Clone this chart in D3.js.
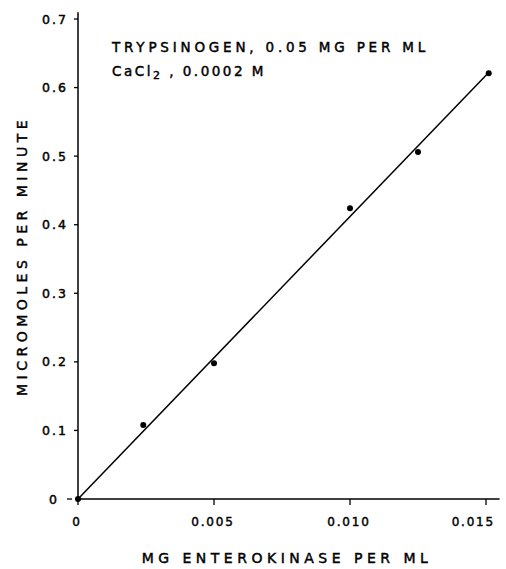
<!DOCTYPE html>
<html>
<head>
<meta charset="utf-8">
<script src="https://cdn.jsdelivr.net/npm/d3@7"></script>
<style>
  body { margin: 0; background: #fff; }
  svg text { font-family: "DejaVu Sans", sans-serif; fill: #000; stroke: #000; stroke-width: 0.45; }
</style>
</head>
<body>
<script>
// enterokinase conc (mg/ml) vs rate (micromoles/min)
var enzyme = [0, 0.0024, 0.005, 0.010, 0.0125, 0.0151];
var rate = [0, 0.108, 0.198, 0.424, 0.506, 0.621];

// drawn straight line (two ends)
var fitX = [0, 0.0151];
var fitY = [0, 0.622];

var xTicks = [0, 0.005, 0.010, 0.015];
var xTickLabels = ["0", "0.005", "0.010", "0.015"];
var yTicks = [0, 0.1, 0.2, 0.3, 0.4, 0.5, 0.6, 0.7];
var yTickLabels = ["0", "0.1", "0.2", "0.3", "0.4", "0.5", "0.6", "0.7"];

var w = 506, h = 569;

var svg = d3.select("body")
  .append("svg")
  .attr("width", w)
  .attr("height", h);

var x = d3.scaleLinear().domain([0, 0.015]).range([78, 486]);
var y = d3.scaleLinear().domain([0, 0.7]).range([499, 19]);

// axes lines
svg.append("line")
  .attr("x1", x(0)).attr("x2", x(0.0155))
  .attr("y1", y(0)).attr("y2", y(0))
  .attr("stroke", "#000").attr("stroke-width", 1.5);
svg.append("line")
  .attr("x1", x(0)).attr("x2", x(0))
  .attr("y1", y(0)).attr("y2", y(0.71))
  .attr("stroke", "#000").attr("stroke-width", 1.5);

// x ticks
svg.selectAll(".xt")
  .data(xTicks)
  .enter()
  .append("line")
  .attr("x1", function(d) { return x(d); })
  .attr("x2", function(d) { return x(d); })
  .attr("y1", y(0))
  .attr("y2", y(0) + 6)
  .attr("stroke", "#000").attr("stroke-width", 1.3);

// last label sits left of its tick so it stays on the page
var lastX = xTicks[xTicks.length - 1];
svg.selectAll(".xl")
  .data(xTicks)
  .enter()
  .append("text")
  .attr("x", function(d) { return d === lastX ? x(d) + 9 : x(d) - 1; })
  .attr("y", 526)
  .attr("text-anchor", function(d) { return d === lastX ? "end" : "middle"; })
  .attr("font-size", 12)
  .attr("letter-spacing", 1.8)
  .text(function(d, i) { return xTickLabels[i]; });

// y ticks
svg.selectAll(".yt")
  .data(yTicks)
  .enter()
  .append("line")
  .attr("x1", function(d) { return d === 0 ? x(0) - 11 : x(0) - 4; })
  .attr("x2", function(d) { return d === 0 ? x(0) - 6 : x(0); })
  .attr("y1", function(d) { return y(d); })
  .attr("y2", function(d) { return y(d); })
  .attr("stroke", "#000").attr("stroke-width", 1.3);

svg.selectAll(".yl")
  .data(yTicks)
  .enter()
  .append("text")
  .attr("x", function(d) { return d === 0 ? 59 : 68; })
  .attr("y", function(d) { return y(d) + 4.5; })
  .attr("text-anchor", "end")
  .attr("font-size", 12.5)
  .attr("letter-spacing", 2)
  .text(function(d, i) { return yTickLabels[i]; });

// fitted line
svg.append("line")
  .attr("x1", x(fitX[0])).attr("y1", y(fitY[0]))
  .attr("x2", x(fitX[1])).attr("y2", y(fitY[1]))
  .attr("stroke", "#000").attr("stroke-width", 1.5);

// points
svg.selectAll("circle")
  .data(enzyme)
  .enter()
  .append("circle")
  .attr("cx", function(d) { return x(d); })
  .attr("cy", function(d, i) { return y(rate[i]); })
  .attr("r", 3)
  .attr("fill", "#000");

// axis titles
svg.append("text")
  .attr("x", 287)
  .attr("y", 563)
  .attr("text-anchor", "middle")
  .attr("font-size", 14)
  .attr("letter-spacing", 4.5)
  .text("MG ENTEROKINASE PER ML");

svg.append("text")
  .attr("transform", "translate(27,256) rotate(-90)")
  .attr("text-anchor", "middle")
  .attr("font-size", 14)
  .attr("letter-spacing", 4.5)
  .text("MICROMOLES PER MINUTE");

// conditions
svg.append("text")
  .attr("x", 112)
  .attr("y", 52)
  .attr("font-size", 13.5)
  .attr("letter-spacing", 3.8)
  .text("TRYPSINOGEN, 0.05  MG PER ML");

var cc = svg.append("text")
  .attr("x", 112)
  .attr("y", 76)
  .attr("font-size", 13.5)
  .attr("letter-spacing", 2.5);
cc.append("tspan").text("CaCl");
cc.append("tspan").attr("dy", 3).attr("font-size", 11).text("2");
cc.append("tspan").attr("dy", -3).text(" , 0.0002 M");
</script>
</body>
</html>
